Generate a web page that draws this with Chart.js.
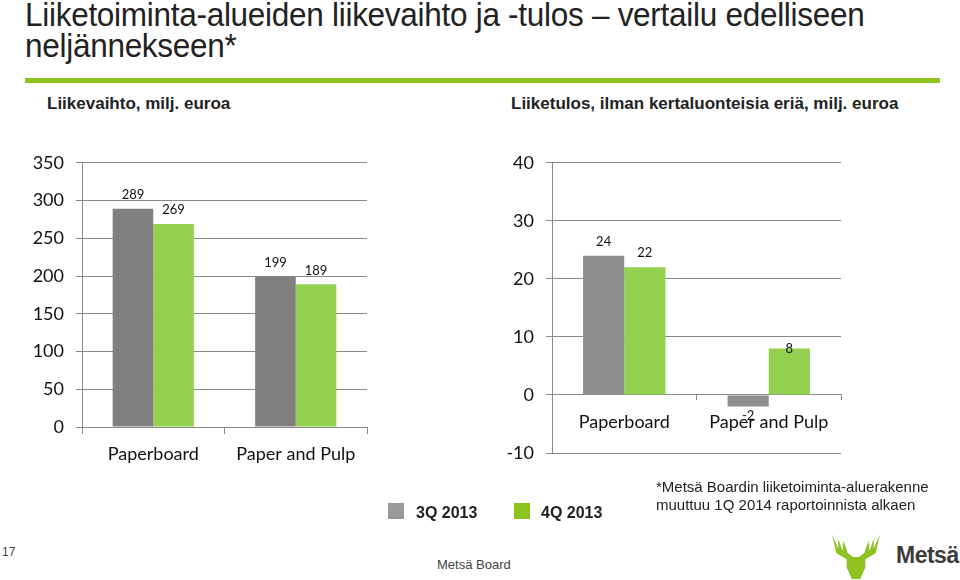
<!DOCTYPE html>
<html>
<head>
<meta charset="utf-8">
<script src="https://cdn.jsdelivr.net/npm/chart.js@4"></script>
<style>
  body { margin:0; width:960px; height:580px; background:#fff; position:relative; overflow:hidden; font-family:"Liberation Sans", Arial, sans-serif; }
  .abs { position:absolute; white-space:nowrap; }
  .narrow { font-family:"Liberation Sans Narrow", "Liberation Sans", Arial, sans-serif; }
  #title { left:25px; top:-1px; font-size:33px; line-height:31px; color:#222; letter-spacing:-0.3px; transform-origin:0 0; transform:scaleX(0.955); }
  #rule { left:25px; top:78px; width:915px; height:5px; background:#8dc21f; }
  .sub { top:94px; font-size:17px; font-weight:bold; color:#222; }
  canvas { position:absolute; }
  .sw { position:absolute; width:16px; height:16px; }
  .lg { top:504px; font-size:16px; font-weight:bold; color:#222; }
</style>
</head>
<body>
<div id="title" class="abs narrow">Liiketoiminta-alueiden liikevaihto ja -tulos – vertailu edelliseen<br>neljännekseen*</div>
<div id="rule" class="abs"></div>
<div class="abs sub narrow" style="left:47px">Liikevaihto, milj. euroa</div>
<div class="abs sub narrow" style="left:511px">Liiketulos, ilman kertaluonteisia eriä, milj. euroa</div>

<canvas id="salesChart" width="380" height="340" style="left:0;top:140px"></canvas>
<canvas id="profitChart" width="480" height="340" style="left:480px;top:140px"></canvas>

<div class="sw" style="left:388px;top:503px;background:#999"></div>
<div class="abs lg narrow" style="left:416px" id="lg1"></div>
<div class="sw" style="left:514px;top:503px;background:#8dc21f"></div>
<div class="abs lg narrow" style="left:541px" id="lg2"></div>

<div class="abs narrow" style="left:656px;top:478px;font-size:15px;line-height:18px;color:#222">*Metsä Boardin liiketoiminta-aluerakenne<br>muuttuu 1Q 2014 raportoinnista alkaen</div>
<div class="abs narrow" style="left:2px;top:545px;font-size:12px;color:#444">17</div>
<div class="abs narrow" style="left:437px;top:557px;font-size:13px;color:#444">Metsä Board</div>

<svg class="abs" style="left:832px;top:528px" width="48" height="52" viewBox="0 0 46 50">
  <polygon fill="#8dc21f" points="0,6 4,24 14,30 14,38 19,49 27,49 32,38 32,30 42,24 46,6 40,20 40,10 36,22 35,12 31,24 26,28 20,28 15,24 11,12 10,22 6,10 6,20"/>
</svg>
<div class="abs" style="left:896px;top:542px;font-size:23px;font-weight:bold;color:#3b3b3b;letter-spacing:-0.5px">Metsä</div>

<script>
// values
const categories = ['Paperboard', 'Paper and Pulp'];
const seriesNames = ['3Q 2013', '4Q 2013'];
const salesQ3 = [289, 199];
const salesQ4 = [269, 189];
const profitQ3 = [24, -2];
const profitQ4 = [22, 8];
const salesAxis = { min: 0, max: 350, step: 50 };
const profitAxis = { min: -10, max: 40, step: 10 };

const GRAY_L = '#808080';
const GRAY_R = '#8e8e8e';
const GREEN = '#92d050';
const LINE = '#8a8a8a';

document.getElementById('lg1').textContent = seriesNames[0];
document.getElementById('lg2').textContent = seriesNames[1];

Chart.defaults.font.family = 'Lato, "Open Sans", sans-serif';
Chart.defaults.color = '#111';

// value labels above (or below) each bar
const valueLabels = {
  id: 'valueLabels',
  afterDatasetsDraw(chart, args, opts) {
    const ctx = chart.ctx;
    const inside = opts.inside || [];
    ctx.save();
    ctx.font = '13px Lato, sans-serif';
    ctx.fillStyle = '#111';
    ctx.textAlign = 'center';
    ctx.textBaseline = 'middle';
    chart.data.datasets.forEach((ds, di) => {
      chart.getDatasetMeta(di).data.forEach((bar, i) => {
        const v = ds.data[i];
        let y;
        if (inside.some(p => p[0] === di && p[1] === i)) y = bar.y;
        else if (v < 0) y = bar.y + 9;
        else y = bar.y - 14;
        ctx.fillText(String(v), bar.x, y);
      });
    });
    ctx.restore();
  }
};

function makeChart(id, q3, q4, grayColor, axis, opts) {
  return new Chart(document.getElementById(id), {
    type: 'bar',
    data: {
      labels: categories,
      datasets: [
        { label: seriesNames[0], data: q3, backgroundColor: grayColor, categoryPercentage: 0.57, barPercentage: 1 },
        { label: seriesNames[1], data: q4, backgroundColor: GREEN, categoryPercentage: 0.57, barPercentage: 1 }
      ]
    },
    options: {
      responsive: false,
      animation: false,
      layout: { padding: opts.padding },
      plugins: {
        legend: { display: false },
        tooltip: { enabled: false },
        valueLabels: { inside: opts.inside }
      },
      scales: {
        x: Object.assign({
          offset: true,
          grid: { offset: true, drawOnChartArea: false, drawTicks: true, tickLength: opts.xTick, color: LINE },
          border: { color: LINE },
          ticks: { font: { size: 18 }, padding: opts.xPad, color: '#111' }
        }, opts.x || {}),
        y: {
          min: axis.min, max: axis.max,
          ticks: { stepSize: axis.step, font: { size: 18 }, padding: 12, color: '#111' },
          grid: { color: LINE, tickLength: 6 },
          border: { color: LINE },
          afterFit: s => { s.width = opts.yWidth; }
        }
      }
    },
    plugins: [valueLabels]
  });
}

makeChart('salesChart', salesQ3, salesQ4, GRAY_L, salesAxis, {
  padding: { left: 0, right: 13, top: 21, bottom: 0 },
  yWidth: 82, xTick: 7, xPad: 9,
  x: { afterFit: s => { s.height = 53; } }
});

makeChart('profitChart', profitQ3, profitQ4, GRAY_R, profitAxis, {
  padding: { left: 0, right: 119, top: 21, bottom: 27 },
  yWidth: 72, xTick: 5, xPad: 11,
  inside: [[1, 1]],
  x: { position: { y: 0 } }
});
</script>
</body>
</html>
